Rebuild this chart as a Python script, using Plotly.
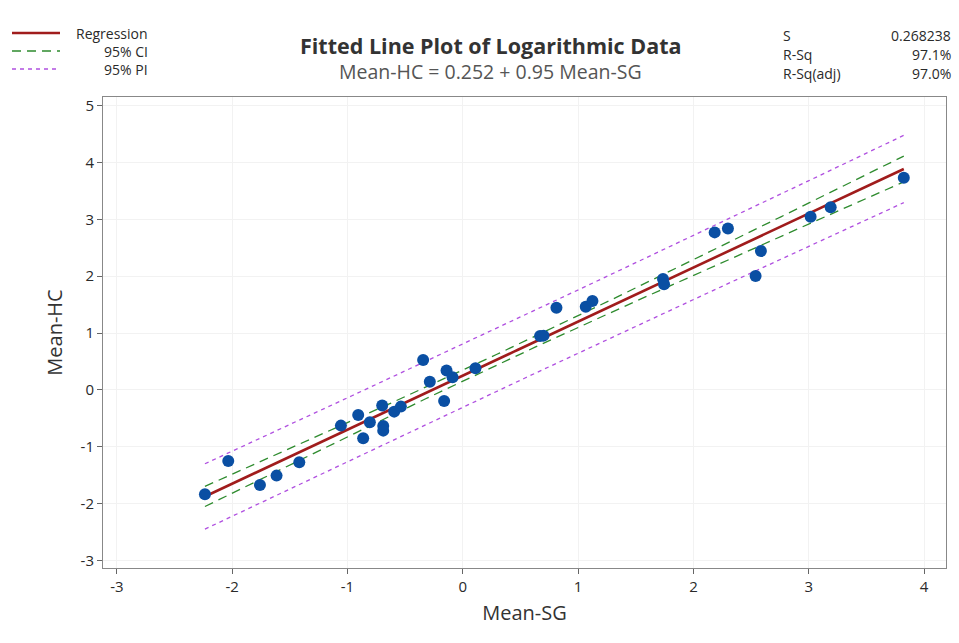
import numpy as np
import plotly.graph_objects as go

# ---- data ----
mean_sg = [-2.236, -2.034, -1.759, -1.615, -1.418, -1.057, -0.907, -0.864, -0.806, -0.699,
           -0.690, -0.690, -0.595, -0.537, -0.344, -0.286, -0.162, -0.141, -0.089, 0.110,
           0.670, 0.700, 0.812, 1.066, 1.124, 1.736, 1.745, 2.184, 2.299, 2.539,
           2.585, 3.016, 3.190, 3.824]
mean_hc = [-1.833, -1.248, -1.670, -1.506, -1.271, -0.627, -0.439, -0.849, -0.568, -0.275,
           -0.633, -0.715, -0.381, -0.293, 0.527, 0.146, -0.193, 0.340, 0.223, 0.381,
           0.949, 0.955, 1.447, 1.464, 1.564, 1.950, 1.857, 2.770, 2.840, 2.004,
           2.443, 3.046, 3.210, 3.730]

intercept = 0.252
slope = 0.95
s_value = 0.268238
t_crit = 2.0369  # t(0.975, df=32)

x_ticks = [-3, -2, -1, 0, 1, 2, 3, 4]
x_tick_text = ["-3", "-2", "-1", "0", "1", "2", "3", "4"]
y_ticks = [-3, -2, -1, 0, 1, 2, 3, 4, 5]
y_tick_text = ["-3", "-2", "-1", "0", "1", "2", "3", "4", "5"]

# ---- fitted line and bands ----
xa = np.array(mean_sg)
n = len(xa)
xbar = xa.mean()
sxx = ((xa - xbar) ** 2).sum()
xg = np.linspace(xa.min(), xa.max(), 200)
yfit = intercept + slope * xg
se_ci = s_value * np.sqrt(1 / n + (xg - xbar) ** 2 / sxx)
se_pi = s_value * np.sqrt(1 + 1 / n + (xg - xbar) ** 2 / sxx)

RED = "#a01c1c"
GREEN = "#2e8b2e"
PURPLE = "#b050e0"
BLUE = "#0a4fa3"

fig = go.Figure()
for sign in (1, -1):
    fig.add_trace(go.Scatter(x=xg, y=yfit + sign * t_crit * se_pi, mode="lines",
                             line=dict(color=PURPLE, width=1.3, dash="4px,4px"),
                             showlegend=False, hoverinfo="skip"))
    fig.add_trace(go.Scatter(x=xg, y=yfit + sign * t_crit * se_ci, mode="lines",
                             line=dict(color=GREEN, width=1.3, dash="9px,6px"),
                             showlegend=False, hoverinfo="skip"))
fig.add_trace(go.Scatter(x=xg, y=yfit, mode="lines",
                         line=dict(color=RED, width=2.6), showlegend=False))
fig.add_trace(go.Scatter(x=mean_sg, y=mean_hc, mode="markers",
                         marker=dict(color=BLUE, size=12), showlegend=False))

FONT = "Open Sans, Noto Sans, sans-serif"
TXT = "#2a2a2a"
W, H = 959, 643
ML, MR, MT, MB = 103, 13, 97, 75


def px(x):
    return (x - ML) / (W - ML - MR)


def py(y):
    return (H - MB - y) / (H - MT - MB)


fig.update_layout(
    width=W, height=H,
    margin=dict(l=ML, r=MR, t=MT, b=MB),
    paper_bgcolor="white", plot_bgcolor="white",
    font=dict(family=FONT, color=TXT),
    showlegend=False,
)
fig.update_xaxes(range=[-3.12, 4.19], tickvals=x_ticks, ticktext=x_tick_text,
                 ticks="outside", ticklen=5,
                 tickcolor="#666", showgrid=True, gridcolor="#f2f2f2", zeroline=False,
                 showline=True, linecolor="#888", mirror=True, linewidth=1,
                 tickfont=dict(size=15, color=TXT),
                 title=dict(text="Mean-SG", font=dict(size=20, color="#333"), standoff=10))
fig.update_yaxes(range=[-3.13, 5.15], tickvals=y_ticks, ticktext=y_tick_text,
                 ticks="outside", ticklen=5,
                 tickcolor="#666", showgrid=True, gridcolor="#f2f2f2", zeroline=False,
                 showline=True, linecolor="#888", mirror=True, linewidth=1,
                 tickfont=dict(size=15, color=TXT),
                 title=dict(text="Mean-HC", font=dict(size=20, color="#333"), standoff=12))

# title / subtitle
fig.add_annotation(text="<b>Fitted Line Plot of Logarithmic Data</b>", x=px(490), y=py(45),
                   xref="paper", yref="paper", showarrow=False, xanchor="center",
                   yanchor="middle", font=dict(size=21.5, color="#333", family=FONT))
fig.add_annotation(text="Mean-HC = 0.252 + 0.95 Mean-SG", x=px(490), y=py(71),
                   xref="paper", yref="paper", showarrow=False, xanchor="center",
                   yanchor="middle", font=dict(size=19.5, color="#555", family=FONT))

# legend (manual)
leg = [("Regression", RED, "solid", 2.6, 33, "left", 74),
       ("95% CI", GREEN, "9px,6px", 1.3, 51, "right", 150),
       ("95% PI", PURPLE, "4px,4px", 1.3, 69, "right", 150)]
for label, col, dash, w, yy, anc, xx in leg:
    fig.add_shape(type="line", xref="paper", yref="paper",
                  x0=px(12), x1=px(60), y0=py(yy), y1=py(yy),
                  line=dict(color=col, width=w, dash=dash))
    fig.add_annotation(text=label, x=px(xx), y=py(yy), xref="paper", yref="paper",
                       showarrow=False, xanchor=anc, yanchor="middle",
                       font=dict(size=14, color=TXT, family=FONT))

# stats box
stats = [("S", "0.268238", 35), ("R-Sq", "97.1%", 54), ("R-Sq(adj)", "97.0%", 73)]
for lab, val, yy in stats:
    fig.add_annotation(text=lab, x=px(781), y=py(yy), xref="paper", yref="paper",
                       showarrow=False, xanchor="left", yanchor="middle",
                       font=dict(size=14, color=TXT, family=FONT))
    fig.add_annotation(text=val, x=px(953), y=py(yy), xref="paper", yref="paper",
                       showarrow=False, xanchor="right", yanchor="middle",
                       font=dict(size=14, color=TXT, family=FONT))

fig.write_html("out.html")
